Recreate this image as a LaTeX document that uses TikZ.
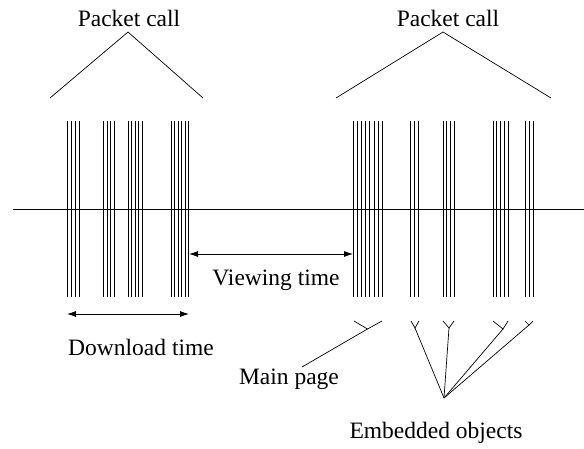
\documentclass[tikz,border=0pt]{standalone}
\usepackage{fontspec}
\setmainfont{Liberation Serif}
\usetikzlibrary{arrows.meta}
\begin{document}
\begin{tikzpicture}[x=1pt,y=-1pt,
  bar/.style={line width=0.8pt},
  thin/.style={line width=0.7pt},
  lbl/.style={font=\fontsize{23.5}{26}\selectfont, inner sep=0pt},
  dimarrow/.style={line width=0.8pt, {Latex[length=9pt,width=6pt]}-{Latex[length=9pt,width=6pt]}}]
\useasboundingbox (0,0) rectangle (584,448);
% axis
\coordinate (axL) at (13,209);
\coordinate (axR) at (584,209);
\draw[thin] (axL) -- (axR);
% packet bars
\foreach \x in {67,71,75,79, 103.5,107,110.5,114, 128,131.5,135,138.5,142, 171,174.5,178,181.5,185,188.5,
  353,357.2,361.4,365.6,369.8,374,378.2,382.4, 410.5,414.5,418.5, 443,446.7,450.3,454, 493,496.75,500.5,504.25,508, 525,529,533}
  \draw[bar] (\x,121) -- (\x,297);
% packet call triangles
\node[lbl] (pc1) at (129,18) {Packet call};
\coordinate (t1a) at (50,98);
\coordinate (t1b) at (128,32);
\coordinate (t1c) at (203,98);
\draw[thin] (t1a) -- (t1b) -- (t1c);
\node[lbl] (pc2) at (448,18) {Packet call};
\coordinate (t2a) at (336,98);
\coordinate (t2b) at (443,32);
\coordinate (t2c) at (551,98);
\draw[thin] (t2a) -- (t2b) -- (t2c);
% viewing time
\coordinate (v1) at (189,254);
\coordinate (v2) at (353,254);
\draw[dimarrow] (v1) -- (v2);
\node[lbl] (vt) at (276,280) {Viewing time};
% download time
\coordinate (d1) at (67,314);
\coordinate (d2) at (189,314);
\draw[dimarrow] (d1) -- (d2);
\node[lbl] (dt) at (141,347) {Download time};
% main page fork
\coordinate (mA) at (354,321);
\coordinate (mJ) at (367.5,329);
\coordinate (mB) at (382,321);
\draw[thin] (mA) -- (mJ) -- (mB);
\coordinate (mEnd) at (302,367);
\draw[thin] (mJ) -- (mEnd);
\node[lbl] (mp) at (289,379) {Main page};
% embedded forks
\coordinate (conv) at (444,398);
\coordinate (bA) at (411,321); \coordinate (bJ) at (415,328); \coordinate (bB) at (419,321);
\coordinate (cA) at (443,321); \coordinate (cJ) at (449,328); \coordinate (cB) at (454,321);
\coordinate (dA) at (493,321); \coordinate (dJ) at (503,329); \coordinate (dB) at (508,321);
\coordinate (eA) at (525,321); \coordinate (eJ) at (529,325); \coordinate (eB) at (533,321);
\foreach \f in {b,c,d,e} {
  \draw[thin] (\f A) -- (\f J) -- (\f B);
  \draw[thin] (\f J) -- (conv);
}
\node[lbl] (eo) at (436,433) {Embedded objects};
\end{tikzpicture}
\end{document}
